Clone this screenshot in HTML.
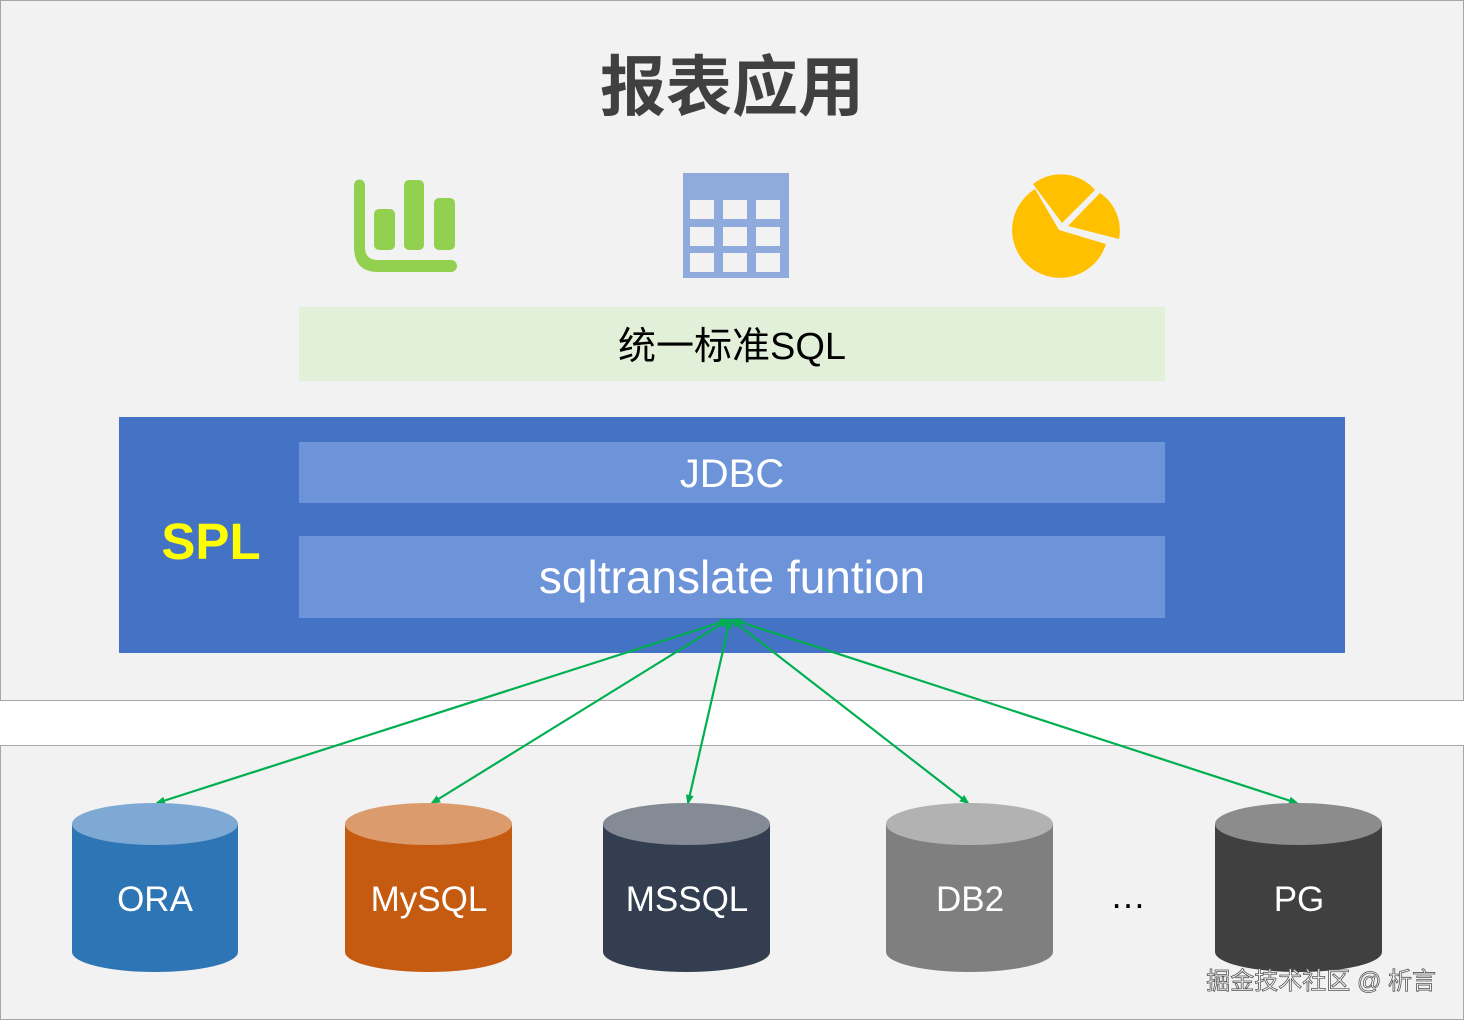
<!DOCTYPE html>
<html><head><meta charset="utf-8"><style>
body{margin:0;background:#fff;}
svg{display:block;}
text{font-family:"Liberation Sans","Noto Sans CJK SC",sans-serif;}
</style></head><body>
<svg width="1464" height="1020" viewBox="0 0 1464 1020" xmlns="http://www.w3.org/2000/svg">
<defs>
<marker id="a" markerWidth="10" markerHeight="10" refX="8" refY="5" orient="auto" markerUnits="userSpaceOnUse">
<path d="M0,1 L10,5 L0,9 z" fill="#00b050"/></marker>
<marker id="b" markerWidth="10" markerHeight="10" refX="2" refY="5" orient="auto" markerUnits="userSpaceOnUse">
<path d="M10,1 L0,5 L10,9 z" fill="#00b050"/></marker>
</defs>
<rect x="0.5" y="0.5" width="1463" height="700" fill="#f2f2f2" stroke="#a6a6a6"/>
<rect x="0.5" y="745.5" width="1463" height="274" fill="#f2f2f2" stroke="#a6a6a6"/>
<text x="732" y="110" text-anchor="middle" font-size="66" font-weight="bold" fill="#404040">报表应用</text>
<g fill="#92d050">
<path d="M354,185 v62 q0,25 24,25 h73 a6,6 0 0 0 0,-12 h-73 q-13,0 -13,-13 v-62 a5.5,5.5 0 0 0 -11,0z"/>
<rect x="374" y="209" width="21" height="41" rx="5"/>
<rect x="404" y="180" width="20" height="70" rx="5"/>
<rect x="434" y="198" width="21" height="52" rx="5"/>
</g>
<rect x="683" y="173" width="106" height="105" fill="#8faadc"/>
<g fill="#f2f2f2">
<rect x="690" y="200" width="24" height="19"/><rect x="723" y="200" width="24" height="19"/><rect x="756" y="200" width="24" height="19"/>
<rect x="690" y="227" width="24" height="19"/><rect x="723" y="227" width="24" height="19"/><rect x="756" y="227" width="24" height="19"/>
<rect x="690" y="253" width="24" height="19"/><rect x="723" y="253" width="24" height="19"/><rect x="756" y="253" width="24" height="19"/>
</g>
<g fill="#ffc000">
<path d="M1059,230 L1106,244 A48,48 0 1 1 1035,189 Z"/>
<path d="M1062,223 L1033,184 A45,45 0 0 1 1095,190 Z"/>
<path d="M1068,226 L1100,193 A45,45 0 0 1 1119,239 Z"/>
</g>
<rect x="299" y="307" width="866" height="74" fill="#e2f0d9"/>
<text x="732" y="359" text-anchor="middle" font-size="38" fill="#000">统一标准SQL</text>
<rect x="119" y="417" width="1226" height="236" fill="#4472c4"/>
<rect x="299" y="442" width="866" height="61" fill="#6d93d8"/>
<rect x="299" y="536" width="866" height="82" fill="#6d93d8"/>
<text x="732" y="487" text-anchor="middle" font-size="40" fill="#fff">JDBC</text>
<text x="732" y="593" text-anchor="middle" font-size="46" fill="#fff">sqltranslate funtion</text>
<text x="211" y="559" text-anchor="middle" font-size="51" font-weight="bold" fill="#ffff00">SPL</text>
<g stroke="#00b050" stroke-width="2.2" fill="none" marker-start="url(#b)" marker-end="url(#a)">
<line x1="728" y1="620" x2="157" y2="803"/>
<line x1="728" y1="620" x2="432" y2="803"/>
<line x1="730" y1="620" x2="688" y2="803"/>
<line x1="732" y1="620" x2="968" y2="803"/>
<line x1="734" y1="620" x2="1297" y2="803"/>
</g>
<g>
<path d="M72,824 v128 a83,20 0 0 0 166,0 v-128z" fill="#2e75b6"/><ellipse cx="155" cy="824" rx="83" ry="21" fill="#7ea9d4"/>
<path d="M345,824 v128 a83.5,20 0 0 0 167,0 v-128z" fill="#c55a11"/><ellipse cx="428.5" cy="824" rx="83.5" ry="21" fill="#dc9b6d"/>
<path d="M603,824 v128 a83.5,20 0 0 0 167,0 v-128z" fill="#333f50"/><ellipse cx="686.5" cy="824" rx="83.5" ry="21" fill="#848b95"/>
<path d="M886,824 v128 a83.5,20 0 0 0 167,0 v-128z" fill="#7f7f7f"/><ellipse cx="969.5" cy="824" rx="83.5" ry="21" fill="#b2b2b2"/>
<path d="M1215,824 v128 a83.5,20 0 0 0 167,0 v-128z" fill="#404040"/><ellipse cx="1298.5" cy="824" rx="83.5" ry="21" fill="#8c8c8c"/>
</g>
<g font-size="35" fill="#fff" text-anchor="middle">
<text x="155" y="911">ORA</text>
<text x="429" y="911">MySQL</text>
<text x="687" y="911">MSSQL</text>
<text x="970" y="911">DB2</text>
<text x="1299" y="911">PG</text>
</g>
<text x="1128" y="908" text-anchor="middle" font-size="36" fill="#000">…</text>
<text x="1436" y="989" text-anchor="end" font-size="24" fill="#fff" stroke="#555" stroke-width="0.8">掘金技术社区 @ 析言</text>
</svg>
</body></html>
